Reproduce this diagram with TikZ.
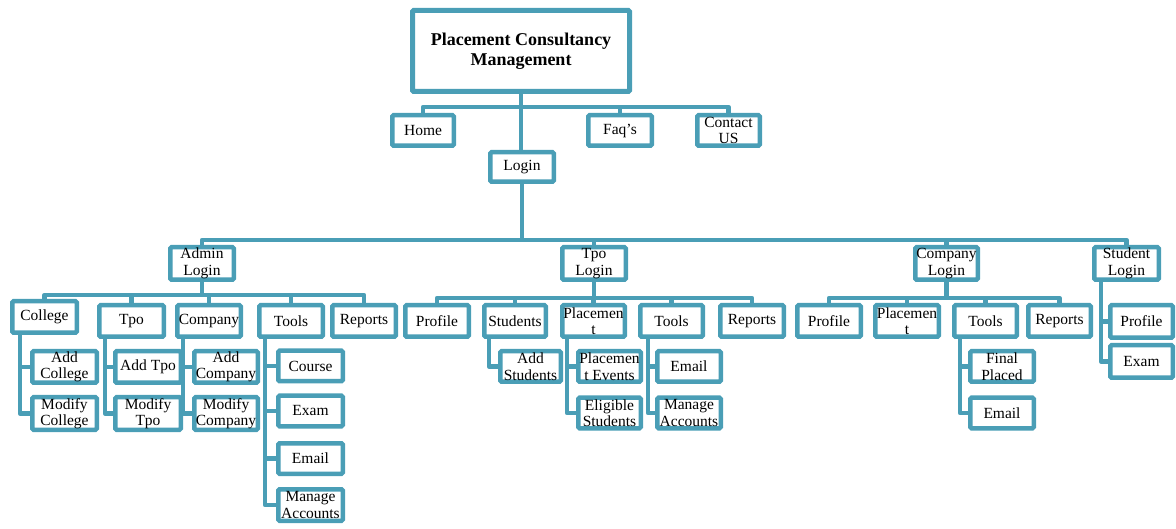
\documentclass[tikz,border=0pt]{standalone}
\usepackage{fontspec}
\setmainfont{Liberation Serif}
\pgfdeclarelayer{background}
\pgfsetlayers{background,main}
\definecolor{tealc}{RGB}{74,158,182}
\newcommand\boxfont{\fontsize{15.5}{16.5}\selectfont}
\newcommand\titlefont{\fontsize{18}{19.5}\selectfont\bfseries}
\tikzset{
  box/.style={draw=tealc, line width=4.5pt, fill=white, rounded corners=1.2pt,
    inner sep=0pt, align=center, font=\boxfont,
    minimum width=63.5pt, minimum height=31.5pt},
  bw/.style={minimum width=#1pt-4.5pt},
  bh/.style={minimum height=#1pt-4.5pt},
  conn/.style={draw=tealc, line width=4.5pt, line join=round},
}
\begin{document}
\begin{tikzpicture}[x=1pt, y=-1pt]
\useasboundingbox (0,0) rectangle (1176,529);

% top level
\node[box, line width=5pt, minimum width=217pt, minimum height=81pt, font=\titlefont]
  (title) at (521,51) {Placement Consultancy\\Management};
\node[box, bw=66, bh=35] (home) at (423,130.5) {Home};
\node[box, bh=35] (faq) at (620,130.5) {Faq’s};
\node[box, bw=67, bh=35] (contact) at (728.5,130.5) {Contact\\US};
\node[box, bh=34] (login) at (522,167) {Login};

% second level
\node[box, bh=37] (adminlogin) at (202,263.5) {Admin\\Login};
\node[box, bh=37] (tpologin) at (594,263.5) {Tpo\\Login};
\node[box, bw=67, bh=37] (complogin) at (946.5,263.5) {Company\\Login};
\node[box, bw=69, bh=37] (studlogin) at (1126.5,263.5) {Student\\Login};

% admin branch
\node[box, bw=69] (college) at (44.5,317) {College};
\node[box, bw=69] (atpo) at (131.5,321) {Tpo};
\node[box] (acompany) at (209,321) {Company};
\node[box] (atools) at (291,321) {Tools};
\node[box] (areports) at (364,321) {Reports};
\node[box, bw=69] (addcollege) at (64.5,367) {Add\\College};
\node[box, bw=69, bh=37] (modcollege) at (64.5,413.5) {Modify\\College};
\node[box, bw=70] (addtpo) at (148,367) {Add Tpo};
\node[box, bw=70, bh=37] (modtpo) at (148,413.5) {Modify\\Tpo};
\node[box] (addcompany) at (226,367) {Add\\Company};
\node[box, bh=37] (modcompany) at (226,413.5) {Modify\\Company};
\node[box, bw=69, bh=35] (course) at (310.5,366) {Course};
\node[box, bw=69, bh=35] (exam) at (310.5,411) {Exam};
\node[box, bw=69, bh=35] (aemail) at (310.5,458.5) {Email};
\node[box, bw=69] (amanage) at (310.5,505) {Manage\\Accounts};

% tpo branch
\node[box] (tprofile) at (437,321) {Profile};
\node[box, bw=66] (tstudents) at (515,321) {Students};
\node[box, bw=67] (tplacement) at (593.5,321) {Placemen\\t};
\node[box, bw=67] (ttools) at (671.5,321) {Tools};
\node[box] (treports) at (752,321) {Reports};
\node[box, bw=65, bh=35] (addstudents) at (530.5,366.5) {Add\\Students};
\node[box, bw=67, bh=35] (pevents) at (609.5,366.5) {Placemen\\t Events};
\node[box, bw=67, bh=35] (eligible) at (609.5,413) {Eligible\\Students};
\node[box, bh=35] (temail) at (689,366.5) {Email};
\node[box, bh=35] (tmanage) at (689,413) {Manage\\Accounts};

% company branch
\node[box] (cprofile) at (829,321) {Profile};
\node[box] (cplacement) at (907,321) {Placemen\\t};
\node[box, bw=67] (ctools) at (985.5,321) {Tools};
\node[box, bw=67] (creports) at (1059.5,321) {Reports};
\node[box, bh=35] (finalplaced) at (1002,366.5) {Final\\Placed};
\node[box, bh=35] (cemail) at (1002,413) {Email};

% student branch
\node[box, bw=67, bh=37] (sprofile) at (1141.5,321.5) {Profile};
\node[box, bw=67, bh=37] (sexam) at (1141.5,361.5) {Exam};

% connectors
\coordinate (topbar) at (0,107);
\coordinate (mainbar) at (0,240);
\coordinate (adminbar) at (0,295);
\coordinate (tpobar) at (0,298);
\coordinate (compbar) at (0,298);
\coordinate (rcollege) at (20,0);
\coordinate (rtpo) at (105,0);
\coordinate (rcompany) at (183,0);
\coordinate (rtools) at (265,0);
\coordinate (rstudents) at (489,0);
\coordinate (rplacement) at (567,0);
\coordinate (rttools) at (648,0);
\coordinate (rctools) at (960,0);
\coordinate (rstudent) at (1101,0);

\begin{pgfonlayer}{background}
  % title, quick links and login
  \draw[conn] (title.south) -- (title.south |- login.north);
  \draw[conn] (home.north) -- (home.north |- topbar) -| (contact.north);
  \draw[conn] (faq.north) -- (faq.north |- topbar);
  \draw[conn] (login.south) -- (login.south |- mainbar);
  % the four logins
  \draw[conn] (adminlogin.north) -- (adminlogin.north |- mainbar) -| (studlogin.north);
  \draw[conn] (tpologin.north) -- (tpologin.north |- mainbar);
  \draw[conn] (complogin.north) -- (complogin.north |- mainbar);
  % admin menu
  \draw[conn] (adminlogin.south) -- (adminlogin.south |- adminbar);
  \draw[conn] (college.north) -- (college.north |- adminbar) -| (areports.north);
  \foreach \n in {atpo,acompany,atools}
    \draw[conn] (\n.north) -- (\n.north |- adminbar);
  \draw[conn] (college.south -| rcollege) |- (addcollege.west);
  \draw[conn] (college.south -| rcollege) |- (modcollege.west);
  \draw[conn] (atpo.south -| rtpo) |- (addtpo.west);
  \draw[conn] (atpo.south -| rtpo) |- (modtpo.west);
  \draw[conn] (acompany.south -| rcompany) |- (addcompany.west);
  \draw[conn] (acompany.south -| rcompany) |- (modcompany.west);
  \foreach \n in {course,exam,aemail,amanage}
    \draw[conn] (atools.south -| rtools) |- (\n.west);
  % tpo menu
  \draw[conn] (tpologin.south) -- (tpologin.south |- tpobar);
  \draw[conn] (tprofile.north) -- (tprofile.north |- tpobar) -| (treports.north);
  \foreach \n in {tstudents,tplacement,ttools}
    \draw[conn] (\n.north) -- (\n.north |- tpobar);
  \draw[conn] (tstudents.south -| rstudents) |- (addstudents.west);
  \draw[conn] (tplacement.south -| rplacement) |- (pevents.west);
  \draw[conn] (tplacement.south -| rplacement) |- (eligible.west);
  \draw[conn] (ttools.south -| rttools) |- (temail.west);
  \draw[conn] (ttools.south -| rttools) |- (tmanage.west);
  % company menu
  \draw[conn] (complogin.south) -- (complogin.south |- compbar);
  \draw[conn] (cprofile.north) -- (cprofile.north |- compbar) -| (creports.north);
  \foreach \n in {cplacement,ctools}
    \draw[conn] (\n.north) -- (\n.north |- compbar);
  \draw[conn] (ctools.south -| rctools) |- (finalplaced.west);
  \draw[conn] (ctools.south -| rctools) |- (cemail.west);
  % student menu
  \draw[conn] (studlogin.south -| rstudent) |- (sprofile.west);
  \draw[conn] (studlogin.south -| rstudent) |- (sexam.west);
\end{pgfonlayer}
\end{tikzpicture}
\end{document}
